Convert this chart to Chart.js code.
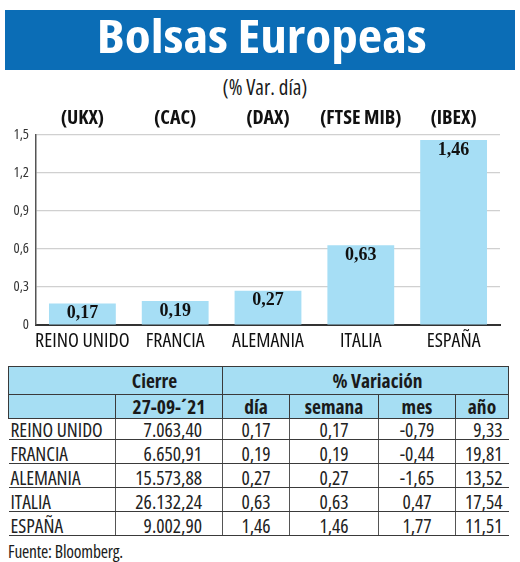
<!DOCTYPE html>
<html>
<head>
<meta charset="utf-8">
<script src="https://cdn.jsdelivr.net/npm/chart.js@4/dist/chart.umd.min.js"></script>
<style>
  html, body { margin:0; padding:0; background:#fff; }
  body { width:520px; height:562px; position:relative; overflow:hidden;
         font-family:"Open Sans",sans-serif; font-stretch:condensed; color:#1a1a1a; }
  #band { position:absolute; left:5px; top:10px; width:510px; height:60px; background:#0b6db6; overflow:hidden; }
  #title { position:absolute; left:0; top:-5px; width:510px; height:60px; line-height:60px; text-align:center;
           color:#fff; font-weight:bold; font-size:46px; font-stretch:semi-condensed; white-space:nowrap; }
  #title span { display:inline-block; transform-origin:center center; }
  #subtitle { position:absolute; left:0; width:530px; top:75px; text-align:center; font-size:21px; line-height:24px; color:#1a1a1a; }
  #chartBox { position:absolute; left:0; top:95px; width:520px; height:262px; }
  #tbl { position:absolute; left:8px; top:366px; border-collapse:collapse; table-layout:fixed; font-size:19.5px; }
  #tbl td { padding:0; white-space:nowrap; overflow:hidden; }
  #tbl tr.h td { background:#a6def3; font-weight:bold; border:1.5px solid #3a3a3a; text-align:center; line-height:22px; }
  #tbl tr.d td { border-bottom:1.5px solid #3a3a3a; vertical-align:bottom; line-height:19px; color:#222; }
  #tbl tr.d td + td { border-left:1px solid #555; }
  #fuente { position:absolute; left:8px; top:540px; font-size:17.5px; line-height:22px; letter-spacing:-0.2px; color:#1a1a1a; }
</style>
</head>
<body>
<div id="band"><div id="title"><span id="titleSpan">Bolsas Europeas</span></div></div>
<div id="subtitle">(% Var. día)</div>
<div id="chartBox"><canvas id="c"></canvas></div>
<table id="tbl"></table>
<div id="fuente">Fuente: Bloomberg.</div>
<script>
const categories = ['REINO UNIDO', 'FRANCIA', 'ALEMANIA', 'ITALIA', 'ESPAÑA'];
const indexLabels = ['(UKX)', '(CAC)', '(DAX)', '(FTSE MIB)', '(IBEX)'];
const dayChange = [0.17, 0.19, 0.27, 0.63, 1.46];
const yTicks = [0, 0.3, 0.6, 0.9, 1.2, 1.5];
const closeDate = '27-09-´21';
const closeValues = ['7.063,40', '6.650,91', '15.573,88', '26.132,24', '9.002,90'];
const weekChange = [0.17, 0.19, 0.27, 0.63, 1.46];
const monthChange = [-0.79, -0.44, -1.65, 0.47, 1.77];
const yearChange = [9.33, 19.81, 13.52, 17.54, 11.51];

const SANS = '"Open Sans", sans-serif';
const fmt2 = v => v.toFixed(2).replace('.', ',');
const fmtTick = v => v === 0 ? '0' : v.toFixed(1).replace('.', ',');

// title width fit
(function(){
  const s = document.getElementById('titleSpan');
  const w = s.getBoundingClientRect().width;
  s.style.transform = 'translateX(2px) scaleX(' + (330 / w) + ')';
})();

const valueLabels = {
  id: 'valueLabels',
  afterDatasetsDraw(chart) {
    const ctx = chart.ctx;
    const meta = chart.getDatasetMeta(0);
    ctx.save();
    ctx.font = 'bold 18px "Liberation Serif","DejaVu Serif",serif';
    ctx.fillStyle = '#111';
    ctx.textAlign = 'center';
    ctx.textBaseline = 'middle';
    meta.data.forEach((bar, i) => {
      ctx.fillText(fmt2(chart.data.datasets[0].data[i]), bar.x, bar.y + 10);
    });
    ctx.restore();
  }
};

new Chart(document.getElementById('c'), {
  type: 'bar',
  data: {
    labels: categories,
    datasets: [{
      data: dayChange,
      backgroundColor: '#a6def5',
      borderWidth: 0,
      categoryPercentage: 1,
      barPercentage: 0.72
    }]
  },
  plugins: [valueLabels],
  options: {
    responsive: true,
    maintainAspectRatio: false,
    animation: false,
    events: [],
    layout: { padding: { left: 0, right: 20, top: 0, bottom: 0 } },
    plugins: { legend: { display: false }, tooltip: { enabled: false } },
    scales: {
      x: {
        position: 'bottom',
        grid: { display: false, drawTicks: false },
        border: { color: '#333', width: 2 },
        ticks: { font: { family: SANS, size: 20, weight: 'condensed' }, color: '#111', padding: 4, maxRotation: 0, autoSkip: false },
        afterFit(s) { s.height = 32; }
      },
      x2: {
        type: 'category',
        position: 'top',
        labels: indexLabels,
        offset: true,
        grid: { display: false, drawTicks: false },
        border: { display: false },
        ticks: { font: { family: SANS, size: 20, weight: 'bold condensed' }, color: '#111', padding: 5, maxRotation: 0, autoSkip: false },
        afterFit(s) { s.height = 40; }
      },
      y: {
        min: 0, max: 1.5,
        afterBuildTicks(s) { s.ticks = yTicks.map(v => ({ value: v })); },
        grid: { color: '#d0d0d0', lineWidth: 1.2, drawTicks: false },
        border: { color: '#555', width: 1.5 },
        ticks: { font: { family: SANS, size: 14.5, weight: 'condensed' }, color: '#333', padding: 7, callback: v => fmtTick(v) },
        afterFit(s) { s.width = 36; }
      }
    }
  }
});

// table
(function(){
  const t = document.getElementById('tbl');
  const widths = [107, 107, 67, 89, 77, 53];
  let html = '<colgroup>' + widths.map(w => '<col style="width:' + w + 'px">').join('') + '</colgroup>';
  html += '<tr class="h" style="height:28px"><td colspan="2" style="padding-left:78px">Cierre</td><td colspan="4" style="padding-left:24px">% Variación</td></tr>';
  html += '<tr class="h" style="height:24px"><td style="border-right:none"></td><td>' + closeDate + '</td><td>día</td><td>semana</td><td>mes</td><td>año</td></tr>';
  categories.forEach((c, i) => {
    const h = i === 0 ? 21 : 24;
    html += '<tr class="d" style="height:' + h + 'px">' +
      '<td style="padding-left:2px">' + c + '</td>' +
      '<td style="text-align:right;padding-right:20px">' + closeValues[i] + '</td>' +
      '<td style="text-align:center">' + fmt2(dayChange[i]) + '</td>' +
      '<td style="text-align:center">' + fmt2(weekChange[i]) + '</td>' +
      '<td style="text-align:center">' + fmt2(monthChange[i]) + '</td>' +
      '<td style="text-align:right;padding-right:6px">' + fmt2(yearChange[i]) + '</td></tr>';
  });
  t.innerHTML = html;
})();
</script>
</body>
</html>
